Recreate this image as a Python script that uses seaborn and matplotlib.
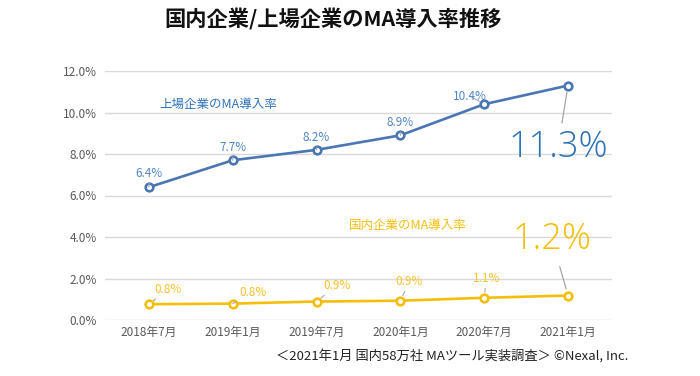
import matplotlib
matplotlib.use("Agg")
import matplotlib.pyplot as plt
import seaborn as sns
import pandas as pd

# ---- data ----
periods = ["2018年7月", "2019年1月", "2019年7月", "2020年1月", "2020年7月", "2021年1月"]
listed_rate = [6.4, 7.7, 8.2, 8.9, 10.4, 11.3]
domestic_rate = [0.76, 0.79, 0.89, 0.93, 1.07, 1.18]
listed_labels = ["6.4%", "7.7%", "8.2%", "8.9%", "10.4%", "11.3%"]
domestic_labels = ["0.8%", "0.8%", "0.9%", "0.9%", "1.1%", "1.2%"]
y_ticks = [0, 2, 4, 6, 8, 10, 12]
y_tick_labels = ["0.0%", "2.0%", "4.0%", "6.0%", "8.0%", "10.0%", "12.0%"]
title = "国内企業/上場企業のMA導入率推移"
listed_name = "上場企業のMA導入率"
domestic_name = "国内企業のMA導入率"
footnote = "＜2021年1月 国内58万社 MAツール実装調査＞ ©Nexal, Inc."

sns.set_theme(style="white")
plt.rcParams["font.family"] = ["Noto Sans CJK JP", "DejaVu Sans"]

BLUE = "#4a76b4"
BLUE_TXT = "#4f86c6"
BLUE_BIG = "#2e72b8"
YEL = "#f5be0b"
YEL_TXT = "#f7c22a"
GRID = "#d9d9d9"
TICK = "#595959"

df = pd.DataFrame({
    "x": list(range(len(periods))) * 2,
    "rate": listed_rate + domestic_rate,
    "series": [listed_name] * len(periods) + [domestic_name] * len(periods),
})

fig = plt.figure(figsize=(7.0, 3.76), dpi=100)
ax = fig.add_axes([105 / 700, 1 - 320 / 376, (612 - 105) / 700, (320 - 71) / 376])

sns.lineplot(data=df, x="x", y="rate", hue="series",
             palette={listed_name: BLUE, domestic_name: YEL},
             linewidth=1.9, marker="o", markersize=5.5,
             markerfacecolor="white", markeredgewidth=1.9,
             legend=False, ax=ax, zorder=3)
for line in ax.get_lines():
    line.set_markeredgecolor(line.get_color())

ax.set_xlim(-0.525, len(periods) - 1 + 0.525)
ax.set_ylim(0, 12)
ax.set_yticks(y_ticks)
ax.set_yticklabels(y_tick_labels)
ax.set_xticks(range(len(periods)))
ax.set_xticklabels(periods)
ax.tick_params(axis="both", length=0, labelsize=8.5, labelcolor=TICK)
ax.tick_params(axis="y", pad=6)
ax.tick_params(axis="x", pad=4)
ax.set_xlabel("")
ax.set_ylabel("")
ax.grid(axis="y", color=GRID, linewidth=1)
ax.grid(axis="x", visible=False)
for s in ax.spines.values():
    s.set_visible(False)

# data labels (offsets in pixels)
blue_off = [(0, 14), (0, 13), (0, 12), (0, 13), (-14, 8)]
yel_off = [(19, 15), (20, 11), (20, 16), (9, 19), (2, 19)]
leader = dict(arrowstyle="-", color="#a6a6a6", lw=0.8, shrinkA=0, shrinkB=4)
for i in range(len(periods) - 1):
    ax.annotate(listed_labels[i], (i, listed_rate[i]), xytext=blue_off[i],
                textcoords="offset pixels", ha="center", va="center",
                fontsize=8.5, color=BLUE_TXT, arrowprops=leader)
    ax.annotate(domestic_labels[i], (i, domestic_rate[i]), xytext=yel_off[i],
                textcoords="offset pixels", ha="center", va="center",
                fontsize=8.5, color=YEL_TXT, arrowprops=leader)

last = len(periods) - 1
big_font = ["Open Sans", "Noto Sans CJK JP", "DejaVu Sans"]
ax.annotate(listed_labels[last], (last, listed_rate[last]), xytext=(-10, -62),
            textcoords="offset pixels", ha="center", va="center",
            fontsize=26, fontweight="light", family=big_font, color=BLUE_BIG,
            arrowprops=dict(arrowstyle="-", color="#a6a6a6", lw=0.9, shrinkA=2, shrinkB=5))
ax.annotate(domestic_labels[last], (last, domestic_rate[last]), xytext=(-16, 56),
            textcoords="offset pixels", ha="center", va="center",
            fontsize=26, fontweight="light", family=big_font, color=YEL,
            arrowprops=dict(arrowstyle="-", color="#a6a6a6", lw=0.9, shrinkA=4, shrinkB=5))

# series names
fig.text(218 / 700, 1 - 104 / 376, listed_name, ha="center", va="center",
         fontsize=9, color=BLUE_BIG)
fig.text(408 / 700, 1 - 226 / 376, domestic_name, ha="center", va="center",
         fontsize=9, color=YEL)

fig.text(333 / 700, 1 - 19 / 376, title, ha="center", va="center",
         fontsize=15.3, fontweight="bold", color="#111111")
fig.text(452 / 700, 1 - 356 / 376, footnote, ha="center", va="center",
         fontsize=9.5, color="#222222")

fig.savefig("out.png", dpi=100)
